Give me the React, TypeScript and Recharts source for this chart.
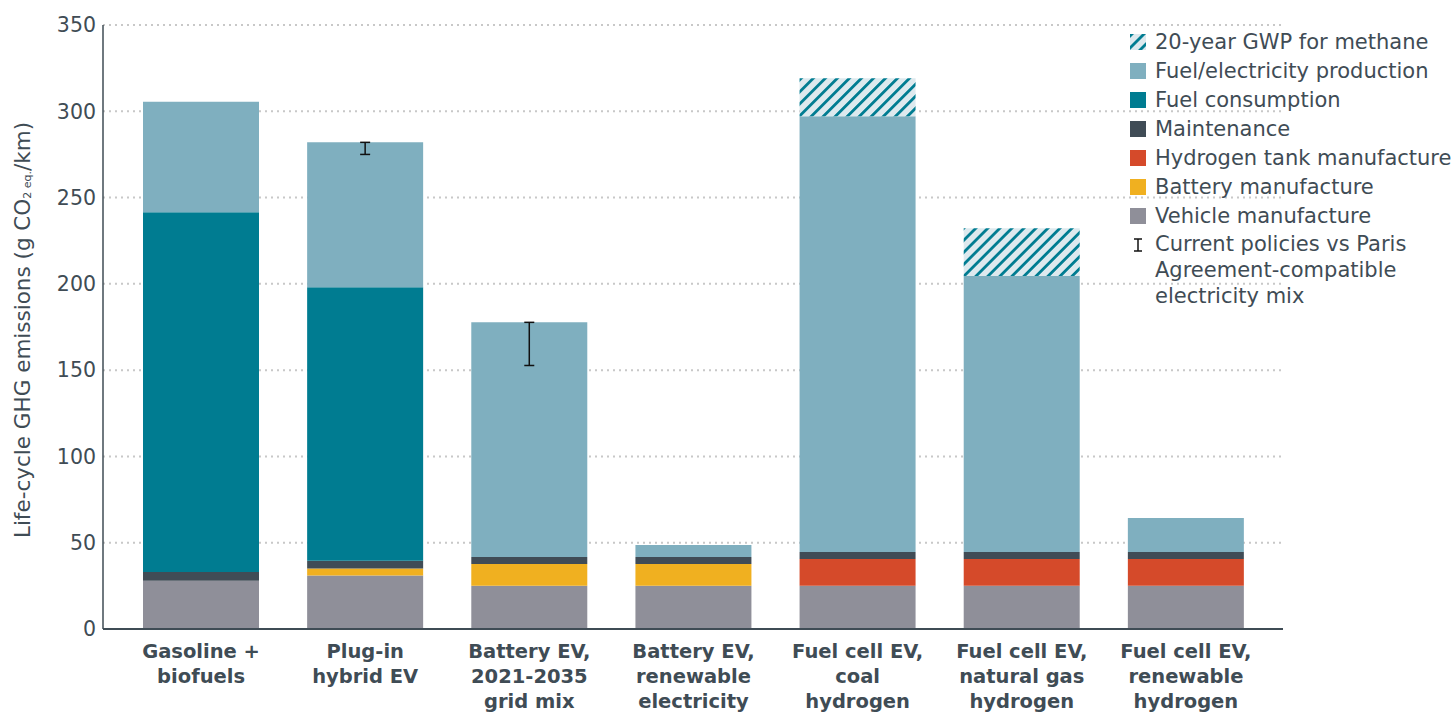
import React from 'react';
import { BarChart, Bar, XAxis, YAxis, CartesianGrid, ErrorBar } from 'recharts';

const CATEGORIES = [
  'Gasoline +\nbiofuels',
  'Plug-in\nhybrid EV',
  'Battery EV,\n2021-2035\ngrid mix',
  'Battery EV,\nrenewable\nelectricity',
  'Fuel cell EV,\ncoal\nhydrogen',
  'Fuel cell EV,\nnatural gas\nhydrogen',
  'Fuel cell EV,\nrenewable\nhydrogen',
];

const VEHICLE = [28, 31, 25, 25, 25, 25, 25];
const BATTERY = [0, 4, 12.7, 12.7, 0, 0, 0];
const HYDROGEN_TANK = [0, 0, 0, 0, 15.6, 15.6, 15.6];
const MAINTENANCE = [5, 4.5, 4, 4, 4, 4, 4];
const FUEL_CONSUMPTION = [208.5, 158.5, 0, 0, 0, 0, 0];
const PRODUCTION = [64, 84, 136, 7, 252.5, 160, 19.7];
const METHANE = [0, 0, 0, 0, 22, 27.6, 0];
// [below, above] the top of the production bar
const POLICY_RANGE: (number[] | undefined)[] = [undefined, [7, 0], [25, 0], undefined, undefined, undefined, undefined];

const Y_TICKS = [0, 50, 100, 150, 200, 250, 300, 350];

const C = {
  vehicle: '#8f8f99',
  battery: '#f0b020',
  hydrogen: '#d54a2a',
  maintenance: '#404c56',
  fuel: '#007c91',
  production: '#7fafbf',
  hatchBg: '#dde9ee',
  text: '#3f4c55',
  grid: '#c8c8c8',
};

const FONT = '"DejaVu Sans", sans-serif';

const data = CATEGORIES.map((name, i) => ({
  name,
  vehicle: VEHICLE[i],
  battery: BATTERY[i],
  hydrogen: HYDROGEN_TANK[i],
  maintenance: MAINTENANCE[i],
  fuel: FUEL_CONSUMPTION[i],
  production: PRODUCTION[i],
  methane: METHANE[i],
  range: POLICY_RANGE[i],
}));

const LEGEND = [
  { label: 'Fuel/electricity production', color: C.production },
  { label: 'Fuel consumption', color: C.fuel },
  { label: 'Maintenance', color: C.maintenance },
  { label: 'Hydrogen tank manufacture', color: C.hydrogen },
  { label: 'Battery manufacture', color: C.battery },
  { label: 'Vehicle manufacture', color: C.vehicle },
];

const XTick = (props: any) => {
  const { x, y, payload } = props;
  const lines = String(payload.value).split('\n');
  return (
    <text x={x} y={y} textAnchor="middle" fontFamily={FONT} fontWeight={700} fontSize={19.5} fill={C.text}>
      {lines.map((l, i) => (
        <tspan key={i} x={x} dy={i === 0 ? 29 : 25}>{l}</tspan>
      ))}
    </text>
  );
};

const YLabel = (props: any) => {
  const vb = props.viewBox || { y: 25, height: 604 };
  const cx = 22;
  const cy = vb.y + vb.height / 2 + 3;
  return (
    <text
      x={cx}
      y={cy}
      transform={`rotate(-90 ${cx} ${cy})`}
      textAnchor="middle"
      dominantBaseline="central"
      fontFamily={FONT}
      fontSize={21.5}
      fill={C.text}
    >
      Life-cycle GHG emissions (g CO
      <tspan fontSize={11} dy={5}>2 eq.</tspan>
      <tspan dy={-5}>/km)</tspan>
    </text>
  );
};

const Swatch = ({ color }: { color: string }) => (
  <div style={{ width: 16, height: 16, background: color, marginRight: 9, flexShrink: 0 }} />
);

const Legend = () => (
  <div style={{ position: 'absolute', left: 1130, top: 27, fontFamily: FONT, fontSize: 21, color: C.text, whiteSpace: 'nowrap' }}>
    <div style={{ display: 'flex', alignItems: 'center', height: 29 }}>
      <svg width={16} height={16} style={{ marginRight: 9, flexShrink: 0 }}>
        <defs>
          <pattern id="hatchLegend" patternUnits="userSpaceOnUse" width={8.5} height={8.5} patternTransform="rotate(45)">
            <rect width={8.5} height={8.5} fill={C.hatchBg} />
            <rect width={2.8} height={8.5} fill={C.fuel} />
          </pattern>
        </defs>
        <rect width={16} height={16} fill="url(#hatchLegend)" />
      </svg>
      <span>20-year GWP for methane</span>
    </div>
    {LEGEND.map((item) => (
      <div key={item.label} style={{ display: 'flex', alignItems: 'center', height: 29 }}>
        <Swatch color={item.color} />
        <span>{item.label}</span>
      </div>
    ))}
    <div style={{ display: 'flex', alignItems: 'flex-start', marginTop: 1 }}>
      <svg width={16} height={16} style={{ marginRight: 9, marginTop: 6, flexShrink: 0 }}>
        <line x1={8} y1={2} x2={8} y2={14} stroke="#111" strokeWidth={1.5} />
        <line x1={4} y1={2} x2={12} y2={2} stroke="#111" strokeWidth={1.5} />
        <line x1={4} y1={14} x2={12} y2={14} stroke="#111" strokeWidth={1.5} />
      </svg>
      <span style={{ lineHeight: '26px' }}>
        Current policies vs Paris
        <br />
        Agreement-compatible
        <br />
        electricity mix
      </span>
    </div>
  </div>
);

export default function App() {
  return (
    <div style={{ position: 'absolute', left: 0, top: 0, width: 1455, height: 713, background: '#fff' }}>
      <BarChart
        width={1455}
        height={713}
        data={data}
        barSize={116}
        margin={{ top: 25, right: 172, bottom: 0, left: 0 }}
      >
        <defs>
          <pattern id="hatch" patternUnits="userSpaceOnUse" width={8.5} height={8.5} patternTransform="rotate(45)">
            <rect width={8.5} height={8.5} fill={C.hatchBg} />
            <rect width={2.8} height={8.5} fill={C.fuel} />
          </pattern>
        </defs>
        <CartesianGrid vertical={false} stroke={C.grid} strokeWidth={2} strokeDasharray="2 4" />
        <XAxis
          dataKey="name"
          interval={0}
          tick={<XTick />}
          tickLine={false}
          tickSize={0}
          tickMargin={0}
          height={84}
          padding={{ left: 16, right: 15 }}
          axisLine={{ stroke: C.text, strokeWidth: 2 }}
        />
        <YAxis
          width={103}
          domain={[0, 350]}
          ticks={Y_TICKS}
          interval={0}
          tickLine={false}
          tickSize={0}
          tickMargin={7}
          axisLine={{ stroke: C.text, strokeWidth: 1.5 }}
          tick={{ fontFamily: FONT, fontSize: 20.5, fill: C.text }}
          label={<YLabel />}
        />
        <Bar dataKey="vehicle" stackId="a" fill={C.vehicle} isAnimationActive={false} />
        <Bar dataKey="battery" stackId="a" fill={C.battery} isAnimationActive={false} />
        <Bar dataKey="hydrogen" stackId="a" fill={C.hydrogen} isAnimationActive={false} />
        <Bar dataKey="maintenance" stackId="a" fill={C.maintenance} isAnimationActive={false} />
        <Bar dataKey="fuel" stackId="a" fill={C.fuel} isAnimationActive={false} />
        <Bar dataKey="production" stackId="a" fill={C.production} isAnimationActive={false}>
          <ErrorBar dataKey="range" width={5} stroke="#111" strokeWidth={1.5} direction="y" />
        </Bar>
        <Bar dataKey="methane" stackId="a" fill="url(#hatch)" isAnimationActive={false} />
      </BarChart>
      <Legend />
    </div>
  );
}
